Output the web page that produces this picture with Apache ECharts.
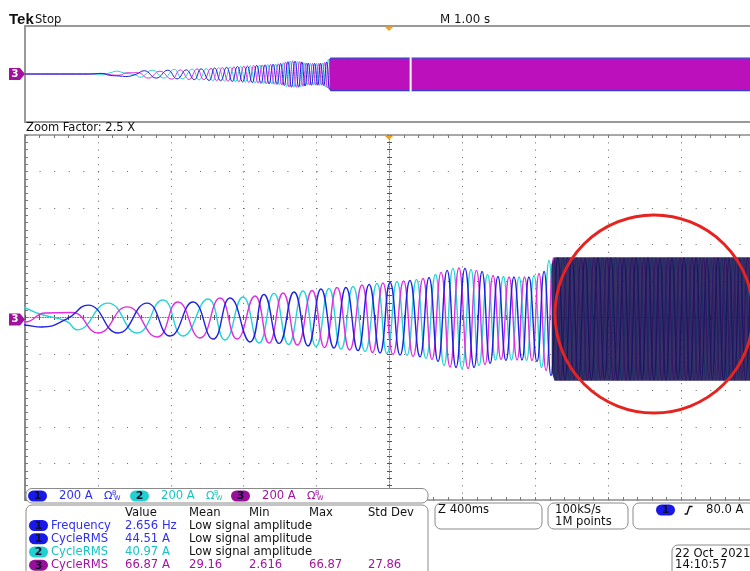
<!DOCTYPE html>
<html><head><meta charset="utf-8">
<script src="https://cdn.jsdelivr.net/npm/echarts@6/dist/echarts.min.js"></script>
<style>html,body{margin:0;padding:0;background:#fff}#c{width:750px;height:571px}</style>
</head><body><div id="c"></div>
<script>
// ---- data (time in ms from left edge of the zoom window, current in A) ----
const BLUE_T = [-1290,-420,-250,-120,0,93,230,346,510,669,796,922,1032,1125,1235,1311,1394,1476,1553,1624,1695,1761,1827,1888,1948,2003,2058,2112,2167,2217,2266,2316,2365,2414,2464,2508,2552,2595,2639,2683,2727,2765,2809,2848,2886,2924,2963,3001,3037,3073,3108,3144,3180,3215,3251,3287,3320,3353,3386,3418,3451,3484,3517,3550,3583,3616,3649,3682,3712,3742,3772,3802,3833,3863,3893,3923,3953,3984];
const BLUE_A = [0,0,12,-30,-41,-52,-8,68,-85,79,-101,85,-118,107,-134,126,-142,140,-156,156,-167,164,-181,181,-195,192,-206,203,-216,219,-241,258,-274,269,-274,252,-252,225,-236,222,-233,222,-241,252,-318,326,-342,326,-340,324,-342,326,-338,326,-342,322,-342,326,-340,326,-342,324,-342,326,-338,326,-342,326,-342,324,-340,326,-342,326,-342,322,-342,326];
const CYAN_T = [-1290,-420,-240,-110,-30,0,82,230,285,455,615,757,867,1004,1097,1196,1284,1366,1446,1525,1597,1668,1734,1800,1866,1931,1986,2041,2096,2148,2200,2252,2299,2348,2398,2447,2491,2538,2582,2625,2669,2711,2752,2793,2834,2875,2913,2952,2988,3026,3062,3097,3133,3169,3204,3240,3275,3309,3342,3375,3407,3440,3473,3506,3539,3572,3605,3638,3671,3704,3734,3764,3794,3824,3855,3885,3915,3945,3975];
const CYAN_A = [0,0,-15,30,60,52,19,-22,-68,79,-85,96,-101,101,-123,112,-140,132,-148,145,-159,159,-173,170,-186,186,-197,197,-208,208,-225,236,-263,269,-279,263,-263,236,-233,225,-233,222,-236,230,-274,312,-342,326,-342,326,-340,324,-342,326,-338,326,-342,322,-342,326,-340,326,-342,324,-342,326,-338,326,-342,326,-342,324,-340,326,-342,326,-342,322,-342];
const MAG_T = [-1290,-420,-230,-100,0,110,258,401,560,724,839,960,1070,1163,1262,1339,1416,1495,1575,1643,1712,1781,1849,1907,1964,2019,2077,2129,2184,2233,2283,2332,2381,2431,2477,2524,2568,2612,2656,2700,2741,2782,2820,2859,2900,2938,2977,3013,3051,3086,3122,3158,3193,3229,3265,3298,3331,3364,3396,3429,3462,3495,3528,3561,3594,3627,3660,3692,3723,3753,3783,3813,3843,3874,3904,3934,3964,3995];
const MAG_A = [0,0,12,-18,-25,25,27,-85,58,-107,85,-112,107,-118,118,-140,134,-151,148,-164,164,-178,178,-192,189,-203,200,-214,214,-230,247,-271,271,-279,258,-258,230,-230,222,-233,222,-236,241,-290,326,-342,326,-340,324,-342,326,-338,326,-342,322,-342,326,-340,326,-342,324,-342,326,-338,326,-342,326,-342,324,-340,326,-342,326,-342,322,-342,326,-342];
// envelope of the saturated (dense) part
const BAND_T  = [2890, 2905, 8710];
const BAND_HI = [290, 330, 330];
const BAND_LO = [-300, -346, -346];
// axes
const ZOOM_RANGE = [0, 4000];          // 400 ms/div x 10
const ZOOM_DIV = 400;
const OVERVIEW_RANGE = [-1290, 8710];  // 1.00 s/div x 10
const AMP_RANGE = [-1000, 1000];       // 200 A/div
const AMP_DIV = 200;
const WINDOW_END = 4000;
// texts
const CH_LABELS = ['200 A', '200 A', '200 A'];
const MEAS_HEAD = ['Value', 'Mean', 'Min', 'Max', 'Std Dev'];
const MEAS_ROWS = [
  ['1', 'Frequency', '2.656 Hz', 'Low signal amplitude', '', '', ''],
  ['1', 'CycleRMS', '44.51 A', 'Low signal amplitude', '', '', ''],
  ['2', 'CycleRMS', '40.97 A', 'Low signal amplitude', '', '', ''],
  ['3', 'CycleRMS', '66.87 A', '29.16', '2.616', '66.87', '27.86']
];

const F = '"DejaVu Sans", sans-serif';
const COL = { '1': '#2f2ff0', '2': '#16c4c4', '3': '#a0149e' };
const BADGE = { '1': '#1818e8', '2': '#22d0d0', '3': '#98109a' };
const W_BLUE = '#2020e2', W_CYAN = '#26d4d4', W_MAG = '#e02ee0';
const zip = (t, a) => t.map((v, i) => [v, a[i]]);

function bandRender(fill, gapAt, edge) {
  return function (params, api) {
    const cs = params.coordSys;
    const cl = p => [Math.max(cs.x, Math.min(cs.x + cs.width, p[0])), Math.max(cs.y, Math.min(cs.y + cs.height, p[1]))];
    const top = [], bot = [];
    for (let i = 0; i < BAND_T.length; i++) { top.push(cl(api.coord([BAND_T[i], BAND_HI[i]]))); bot.push(cl(api.coord([BAND_T[i], BAND_LO[i]]))); }
    const pts = top.concat(bot.slice().reverse());
    const children = [{ type: 'polygon', shape: { points: pts }, style: { fill: fill } }];
    if (edge) {
      children.push({ type: 'polyline', shape: { points: top }, style: { stroke: edge, lineWidth: 1.2, fill: null } });
      children.push({ type: 'polyline', shape: { points: bot }, style: { stroke: edge, lineWidth: 1.2, fill: null } });
    }
    if (gapAt != null) {
      const a = api.coord([gapAt, BAND_HI[BAND_HI.length - 1]]);
      const b = api.coord([gapAt, BAND_LO[BAND_LO.length - 1]]);
      children.push({ type: 'rect', shape: { x: a[0] - 1, y: a[1] - 1, width: 2, height: b[1] - a[1] + 2 }, style: { fill: '#ffffff', stroke: null } });
    }
    return { type: 'group', children: children };
  };
}

const GRAY = '#8c8c8c';
const noLbl = { show: false };
function borderX(pos, split) {
  return {
    gridIndex: 0, type: 'value', min: ZOOM_RANGE[0], max: ZOOM_RANGE[1], interval: ZOOM_DIV, position: pos,
    axisLine: { show: true, onZero: false, lineStyle: { color: GRAY, width: 1.5 } },
    axisTick: { show: true, inside: true, length: 3, lineStyle: { color: '#777' } },
    minorTick: { show: true, splitNumber: 5, length: 3, lineStyle: { color: '#777' } },
    axisLabel: noLbl, minorSplitLine: { show: false },
    splitLine: { show: split, lineStyle: { color: '#666', width: 1, type: [1, 6.3] } }
  };
}
function centerX(pos, line) {
  return {
    gridIndex: 0, type: 'value', min: ZOOM_RANGE[0], max: ZOOM_RANGE[1], interval: ZOOM_DIV, position: pos,
    axisLine: { show: line, onZero: true, lineStyle: { color: '#7a7a7a', width: 1, type: [1, 1.5] } },
    axisTick: { show: true, inside: true, length: 2.5, lineStyle: { color: '#555' } },
    minorTick: { show: true, splitNumber: 5, length: 2.5, lineStyle: { color: '#555' } },
    axisLabel: noLbl, splitLine: { show: false }
  };
}
function centerY(pos, line) {
  return {
    gridIndex: 0, type: 'value', min: AMP_RANGE[0], max: AMP_RANGE[1], interval: AMP_DIV, position: pos, offset: -364.5,
    axisLine: { show: line, onZero: false, lineStyle: { color: '#7a7a7a', width: 1, type: [1, 1.5] } },
    axisTick: { show: true, inside: true, length: 2.5, lineStyle: { color: '#555' } },
    minorTick: { show: true, splitNumber: 5, length: 2.5, lineStyle: { color: '#555' } },
    axisLabel: noLbl, splitLine: { show: false }
  };
}
function ovX(pos) {
  return {
    gridIndex: 1, type: 'value', min: OVERVIEW_RANGE[0], max: OVERVIEW_RANGE[1], position: pos,
    axisLine: { show: true, onZero: false, lineStyle: { color: '#999', width: 2 } },
    axisTick: { show: false }, minorTick: { show: false }, axisLabel: noLbl,
    splitLine: { show: false }, minorSplitLine: { show: false }, splitArea: { show: false }
  };
}
function lineS(name, data, color, xi, yi, w) {
  return {
    type: 'line', name: name, data: data, xAxisIndex: xi, yAxisIndex: yi, smooth: 0.5,
    showSymbol: false, symbol: 'none', z: 2, clip: true, animation: false,
    lineStyle: { color: color, width: w }, itemStyle: { color: color }
  };
}

// ---------- instrument chrome ----------
const G = [];
function T(x, y, s, fill, size) {
  G.push({ type: 'text', x: x, y: y, z: 100,
    style: { text: s, fill: fill || '#111', font: (size || 11.6) + 'px ' + F, textVerticalAlign: 'middle', textAlign: 'left' } });
}
function box(x, y, w, h, r) {
  G.push({ type: 'rect', z: 99, shape: { x: x, y: y, width: w, height: h, r: r || 5 }, style: { fill: '#fff', stroke: '#8a8a8a', lineWidth: 1 } });
}
function badge(x, cy, n) {
  G.push({ type: 'rect', z: 100, shape: { x: x, y: cy - 5.5, width: 19, height: 11, r: 5.5 }, style: { fill: BADGE[n] } });
  G.push({ type: 'text', z: 101, x: x + 9.5, y: cy + 0.5, style: { text: n, fill: '#101030', font: 'bold 11px ' + F, textAlign: 'center', textVerticalAlign: 'middle' } });
}
function ohm(x, cy, col) {
  T(x, cy, 'Ω', col, 11);
  T(x + 8, cy - 3, 'B', col, 6.5);
  T(x + 10, cy + 2.5, 'W', col, 6.5);
}
function chMarker(cy) {
  G.push({ type: 'polygon', z: 100, shape: { points: [[9, cy - 6], [20, cy - 6], [25, cy], [20, cy + 6], [9, cy + 6]] }, style: { fill: '#a0129e' } });
  G.push({ type: 'text', z: 101, x: 15, y: cy, style: { text: '3', fill: '#fff', font: 'bold 10px ' + F, textAlign: 'center', textVerticalAlign: 'middle' } });
}
function trig(cy) {
  G.push({ type: 'polygon', z: 100, shape: { points: [[384.5, cy], [393.5, cy], [389, cy + 4.5]] }, style: { fill: '#f2a21e' } });
}

G.push({ type: 'text', x: 9, y: 20, z: 100, style: { text: 'Tek', fill: '#111', font: 'bold 15px "Liberation Sans", sans-serif', textVerticalAlign: 'middle' } });
T(35, 19.5, 'Stop', '#111', 11.6);
T(440, 19.5, 'M 1.00 s', '#111', 11.8);
T(26, 128, 'Zoom Factor: 2.5 X', '#111', 11.5);
trig(26.5); trig(135.5);
chMarker(74); chMarker(319.5);

box(26, 488.5, 402, 14.5, 6);
const barCy = 496;
const chX = [28, 130, 231];
['1', '2', '3'].forEach((n, i) => {
  badge(chX[i], barCy, n);
  T(chX[i] + 31, barCy, CH_LABELS[i], COL[n], 11.6);
  ohm(chX[i] + 76, barCy, COL[n]);
});

box(26, 505, 402, 80, 6);
const colX = [125, 189, 249, 309, 368];
MEAS_HEAD.forEach((h, i) => T(colX[i], 512.5, h, '#111', 11.6));
const rowY = [525.5, 538.8, 552, 565.2];
MEAS_ROWS.forEach((r, k) => {
  const n = r[0], c = COL[n];
  badge(29, rowY[k], n);
  T(51, rowY[k], r[1], c, 11.6);
  T(colX[0], rowY[k], r[2], c, 11.6);
  if (r[4] === '') T(colX[1], rowY[k], r[3], '#111', 11.6);
  else { T(colX[1], rowY[k], r[3], c, 11.6); T(colX[2], rowY[k], r[4], c, 11.6); T(colX[3], rowY[k], r[5], c, 11.6); T(colX[4], rowY[k], r[6], c, 11.6); }
});

box(435, 503, 107, 26, 6);
T(438, 510, 'Z 400ms', '#111', 11.6);
box(548, 503, 80, 26, 6);
T(555, 509.5, '100kS/s', '#111', 11.6);
T(555, 521.5, '1M points', '#111', 11.6);
box(633, 503, 140, 26, 6);
badge(656, 510, '1');
G.push({ type: 'polyline', z: 100, shape: { points: [[684.5, 514], [687, 514], [689.5, 506.5], [692.5, 506.5]] }, style: { stroke: '#111', lineWidth: 1.4, fill: null } });
T(706, 510, '80.0 A', '#111', 11.6);
box(672, 545, 100, 40, 6);
T(675, 554, '22 Oct  2021', '#111', 11.6);
T(675, 564.5, '14:10:57', '#111', 11.6);

G.push({ type: 'circle', z: 110, shape: { cx: 654, cy: 314, r: 99 }, style: { fill: null, stroke: '#e6231f', lineWidth: 3 } });

const option = {
  animation: false,
  backgroundColor: '#fff',
  grid: [
    { left: 25, top: 135, width: 729, height: 365, outerBoundsMode: 'none', containLabel: false, show: false },
    { left: 25, top: 26, width: 729, height: 96, outerBoundsMode: 'none', containLabel: false, show: false }
  ],
  xAxis: [
    borderX('bottom', true), borderX('top', false), centerX('bottom', true), centerX('top', false), ovX('bottom'), ovX('top')
  ],
  yAxis: [
    {
      gridIndex: 0, type: 'value', min: AMP_RANGE[0], max: AMP_RANGE[1], interval: AMP_DIV, position: 'left',
      axisLine: { show: true, onZero: false, lineStyle: { color: GRAY, width: 2 } },
      axisTick: { show: true, inside: true, length: 3, lineStyle: { color: '#777' } },
      minorTick: { show: true, splitNumber: 5, length: 3, lineStyle: { color: '#777' } },
      axisLabel: noLbl, minorSplitLine: { show: false },
      splitLine: { show: true, lineStyle: { color: '#666', width: 1, type: [1, 13.58] } }
    },
    centerY('left', true),
    centerY('right', false),
    {
      gridIndex: 1, type: 'value', min: AMP_RANGE[0], max: AMP_RANGE[1], position: 'left',
      axisLine: { show: true, onZero: false, lineStyle: { color: '#999', width: 2 } },
      axisTick: { show: false }, minorTick: { show: false }, axisLabel: noLbl,
      splitLine: { show: false }, minorSplitLine: { show: false }
    }
  ],
  series: [
    lineS('ch2', zip(CYAN_T, CYAN_A), W_CYAN, 0, 0, 1.4),
    lineS('ch3', zip(MAG_T, MAG_A), W_MAG, 0, 0, 1.4),
    lineS('ch1', zip(BLUE_T, BLUE_A), W_BLUE, 0, 0, 1.4),
    { type: 'custom', xAxisIndex: 0, yAxisIndex: 0, z: 3, data: [[BAND_T[0], BAND_HI[0]]],
      renderItem: bandRender('rgba(28,20,82,0.88)', null, null), silent: true },
    lineS('ch2o', zip(CYAN_T, CYAN_A), W_CYAN, 4, 3, 1),
    lineS('ch3o', zip(MAG_T, MAG_A), W_MAG, 4, 3, 1),
    lineS('ch1o', zip(BLUE_T, BLUE_A), W_BLUE, 4, 3, 1),
    { type: 'custom', xAxisIndex: 4, yAxisIndex: 3, z: 3, data: [[BAND_T[0], BAND_HI[0]]],
      renderItem: bandRender('#bc10bc', WINDOW_END, '#3a3ad0'), silent: true }
  ],
  graphic: { elements: G }
};

const chart = echarts.init(document.getElementById('c'), null, { renderer: 'canvas', width: 750, height: 571 });
chart.setOption(option);
</script>
</body></html>
